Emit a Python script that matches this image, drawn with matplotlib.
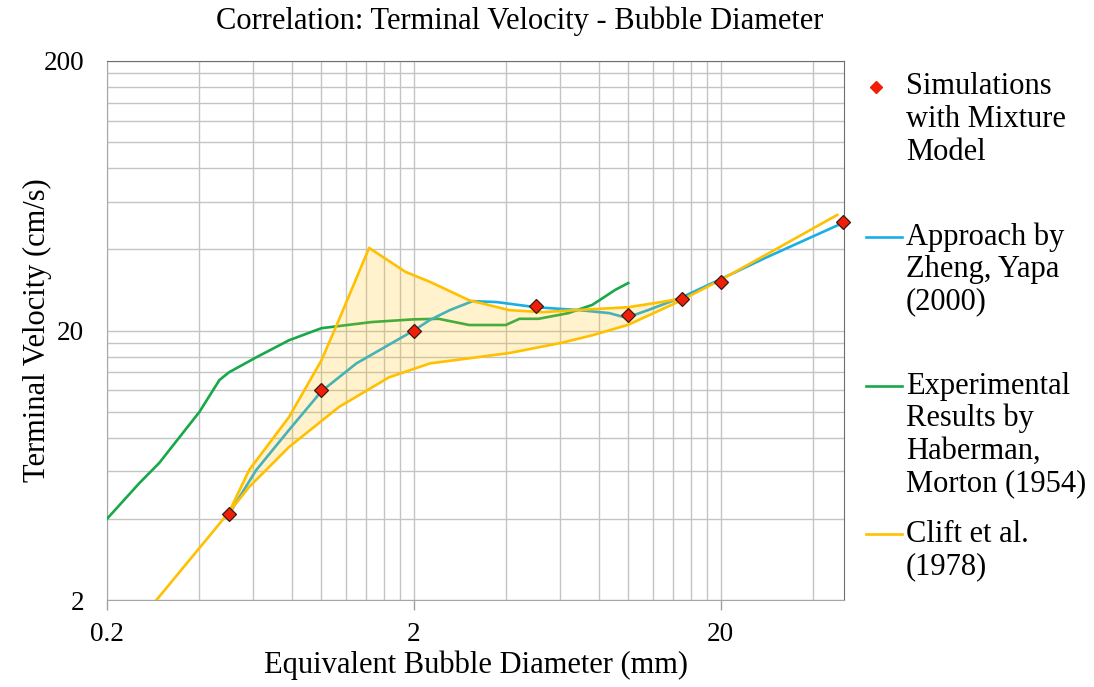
import matplotlib
matplotlib.use("Agg")
import matplotlib.pyplot as plt
from matplotlib.lines import Line2D

plt.rcParams['font.family'] = ['Liberation Serif', 'DejaVu Serif']

# simulations with mixture model
sim_d = [0.5, 1.0, 2.0, 5.0, 10.0, 15.0, 20.0, 50.0]
sim_v = [4.17, 12.0, 20.0, 24.7, 22.8, 26.2, 30.3, 50.5]

# Zheng, Yapa (2000)
zheng_d = [0.50, 0.613, 0.784, 1.0, 1.30, 2.0, 2.26, 2.62, 3.11, 3.72, 5.0, 6.93,
           8.68, 9.86, 11.6, 15.0, 20.0, 28.0, 50.0]
zheng_v = [4.17, 6.07, 8.55, 11.9, 15.1, 20.0, 21.9, 23.8, 25.7, 25.5, 24.4, 23.8,
           23.2, 22.3, 23.8, 26.6, 31.0, 37.2, 50.1]

# Haberman, Morton (1954)
haber_d = [0.2, 0.255, 0.296, 0.40, 0.465, 0.50, 0.613, 0.784, 1.0, 1.46, 2.0,
           2.41, 3.03, 3.99, 4.42, 5.1, 6.38, 7.64, 9.07, 10.0]
haber_v = [4.0, 5.43, 6.45, 9.97, 13.1, 14.0, 15.9, 18.4, 20.4, 21.5, 22.0,
           22.1, 20.96, 20.96, 22.1, 22.1, 23.2, 24.9, 28.3, 30.0]

# Clift et al. (1978), upper and lower bounds
clift_up_d = [0.50, 0.581, 0.784, 1.0, 1.14, 1.43, 1.88, 2.26, 3.03, 4.10,
              5.25, 7.64, 10.0, 12.8, 15.3]
clift_up_v = [4.24, 6.07, 9.55, 15.5, 21.9, 40.5, 33.0, 30.3, 25.9, 23.8,
              23.4, 24.0, 24.4, 25.5, 26.4]
clift_lo_d = [0.29, 0.50, 0.581, 0.784, 1.14, 1.66, 2.26, 4.10, 6.06, 7.64,
              10.0, 14.5, 20.0, 28.0, 48.0]
clift_lo_v = [2.0, 4.24, 5.25, 7.39, 10.4, 13.4, 15.1, 16.5, 18.0, 19.2,
              21.0, 25.5, 30.8, 38.1, 53.7]

BLUE = '#1AAEE6'
GREEN = '#18A84A'
ORANGE = '#FFC000'
RED = '#F02008'

W, H = 1094, 687
fig = plt.figure(figsize=(W / 100, H / 100), dpi=100)
ax = fig.add_axes([107 / W, 1 - 600 / H, (844 - 107) / W, (600 - 61) / H])
ax.set_xscale('log')
ax.set_yscale('log')
ax.set_xlim(0.2, 50.5)
ax.set_ylim(2, 200)

ax.plot(haber_d, haber_v, color=GREEN, lw=1.9, zorder=3)
ax.plot(zheng_d, zheng_v, color=BLUE, lw=1.9, zorder=3)

# shaded band between the Clift bounds
lo_in = [(d, v) for d, v in zip(clift_lo_d, clift_lo_v) if 0.5 <= d <= 15.3]
band_d = clift_up_d + [d for d, v in lo_in[::-1]]
band_v = clift_up_v + [v for d, v in lo_in[::-1]]
ax.fill(band_d, band_v, color=ORANGE, alpha=0.2, lw=0, zorder=4)

ax.plot(clift_up_d, clift_up_v, color=ORANGE, lw=1.9, zorder=5)
ax.plot(clift_lo_d, clift_lo_v, color=ORANGE, lw=1.9, zorder=5)

ax.plot(sim_d, sim_v, ls='none', marker='D', ms=7, mfc=RED, mec='#3a1a10',
        mew=0.9, zorder=6, clip_on=False)

ax.set_xticks([0.2, 2, 20])
ax.set_xticklabels(['0.2', '2', '20'])
ax.set_xticks([0.2 * k for k in range(2, 10)] + [2 * k for k in range(2, 10)]
              + [40], minor=True)
ax.set_yticks([2, 20, 200])
ax.set_yticklabels(['2', '20', '200'])
ax.set_yticks([2 * k for k in range(2, 10)] + [20 * k for k in range(2, 10)], minor=True)
ax.tick_params(which='minor', length=0, labelbottom=False, labelleft=False)
ax.tick_params(axis='x', which='major', length=7, color='#A0A0A0', width=1,
               labelsize=19.5, pad=9)
ax.tick_params(axis='y', which='major', length=0, labelsize=19.5, pad=16.5)
ax.grid(True, which='both', color='#C4C4C4', lw=1)
ax.set_axisbelow(True)
for s in ['left', 'bottom']:
    ax.spines[s].set_color('#A6A6A6')
for s in ['top', 'right']:
    ax.spines[s].set_color('#6E6E6E')

fig.text(520 / W, 1 - 21 / H, 'Correlation: Terminal Velocity - Bubble Diameter',
         ha='center', va='center', fontsize=22)
fig.text(476 / W, 1 - 665 / H, 'Equivalent Bubble Diameter (mm)',
         ha='center', va='center', fontsize=22)
fig.text(37 / W, 1 - 330 / H, 'Terminal Velocity (cm/s)', rotation=90,
         ha='center', va='center', fontsize=22)


# legend drawn by hand so the key sits beside the first line of each entry
def fx(x):
    return x / W


def fy(y):
    return 1 - y / H


entries = [
    (['Simulations', 'with Mixture', 'Model'], 87, 'marker', RED),
    (['Approach by', 'Zheng, Yapa', '(2000)'], 237, 'line', BLUE),
    (['Experimental', 'Results by', 'Haberman,', 'Morton (1954)'], 386, 'line', GREEN),
    (['Clift et al.', '(1978)'], 534, 'line', ORANGE),
]
for lines, y0, kind, col in entries:
    if kind == 'marker':
        fig.add_artist(Line2D([fx(876)], [fy(y0)], marker='D', ms=6.5, color=col,
                              ls='none', transform=fig.transFigure))
    else:
        fig.add_artist(Line2D([fx(866), fx(902)], [fy(y0), fy(y0)], color=col,
                              lw=1.9, transform=fig.transFigure))
    for i, txt in enumerate(lines):
        fig.text(fx(906), fy(y0 + 32.5 * i), txt, ha='left', va='center',
                 fontsize=22)

fig.savefig('out.png', dpi=100)
